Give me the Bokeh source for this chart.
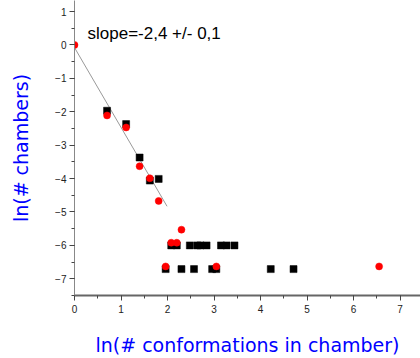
from bokeh.plotting import figure
from bokeh.models import Range1d, SingleIntervalTicker, Label
from bokeh.embed import file_html
from bokeh.resources import INLINE

# black squares: (ln # conformations, ln # chambers)
sq_x = [0.70, 1.11, 1.40, 1.62, 1.81, 1.96, 2.08, 2.20, 2.30, 2.48, 2.57, 2.64, 2.71, 2.84,
        2.96, 3.05, 3.15, 3.27, 3.44, 4.22, 4.71]
sq_y = [-1.97, -2.37, -3.37, -4.06, -4.01, -6.71, -6.0, -6.0, -6.71, -6.0, -6.71, -6.0, -6.0, -6.0,
        -6.71, -6.71, -6.0, -6.0, -6.0, -6.71, -6.71]
# red circles
rc_x = [0.0, 0.70, 1.11, 1.40, 1.62, 1.81, 1.96, 2.08, 2.20, 2.30, 3.05, 6.55]
rc_y = [0.0, -2.11, -2.47, -3.63, -3.99, -4.67, -6.63, -5.92, -5.92, -5.53, -6.63, -6.63]
# fit line
fit_x = [0.0, 1.99]
fit_y = [-0.08, -4.83]

x_ticks_interval = 1
y_ticks_interval = 1

p = figure(width=420, height=358, output_backend="svg", toolbar_location=None,
           x_range=Range1d(0, 7.44), y_range=Range1d(-7.5, 1.33),
           min_border_left=74, min_border_right=0, min_border_top=0, min_border_bottom=63)
p.outline_line_color = None
p.xgrid.visible = False
p.ygrid.visible = False
p.background_fill_color = "white"
p.border_fill_color = "white"

p.line(fit_x, fit_y, line_color="#999999", line_width=1)
p.scatter(sq_x, sq_y, marker="square", size=7, fill_color="black", line_color="black", line_width=0.5)
p.scatter(rc_x, rc_y, marker="circle", size=7, fill_color="#ff0000", line_color="#ff0000", line_width=0.5)

for ax, iv in ((p.xaxis[0], x_ticks_interval), (p.yaxis[0], y_ticks_interval)):
    ax.ticker = SingleIntervalTicker(interval=iv, num_minor_ticks=2)
    ax.major_tick_in = 0
    ax.major_tick_out = 5
    ax.minor_tick_in = 0
    ax.minor_tick_out = 3
    ax.major_label_text_font = "Liberation Sans"
    ax.major_label_text_font_size = "10px"
    ax.major_label_text_color = "#222222"
    ax.axis_label_text_font = "DejaVu Sans"
    ax.axis_label_text_font_size = "19px"
    ax.axis_label_text_font_style = "normal"
    ax.axis_label_text_color = "#0000ff"

p.xaxis.axis_line_color = "#666666"
p.xaxis.axis_line_width = 2
p.xaxis.major_tick_line_color = "#444444"
p.xaxis.minor_tick_line_color = "#444444"
p.yaxis.axis_line_color = "#888888"
p.yaxis.axis_line_width = 1
p.yaxis.major_tick_line_color = "#444444"
p.yaxis.minor_tick_line_color = "#444444"

p.xaxis.axis_label = "ln(# conformations in chamber)"
p.yaxis.axis_label = "ln(# chambers)"
p.xaxis.major_label_standoff = 4
p.yaxis.major_label_standoff = 3
p.xaxis.axis_label_standoff = 18
p.yaxis.axis_label_standoff = 20

p.add_layout(Label(x=0.28, y=0.34, text="slope=-2,4 +/- 0,1", text_font="Liberation Sans",
                   text_font_size="17px", text_baseline="middle", text_color="black"))

open("out.html", "w").write(file_html(p, INLINE))
